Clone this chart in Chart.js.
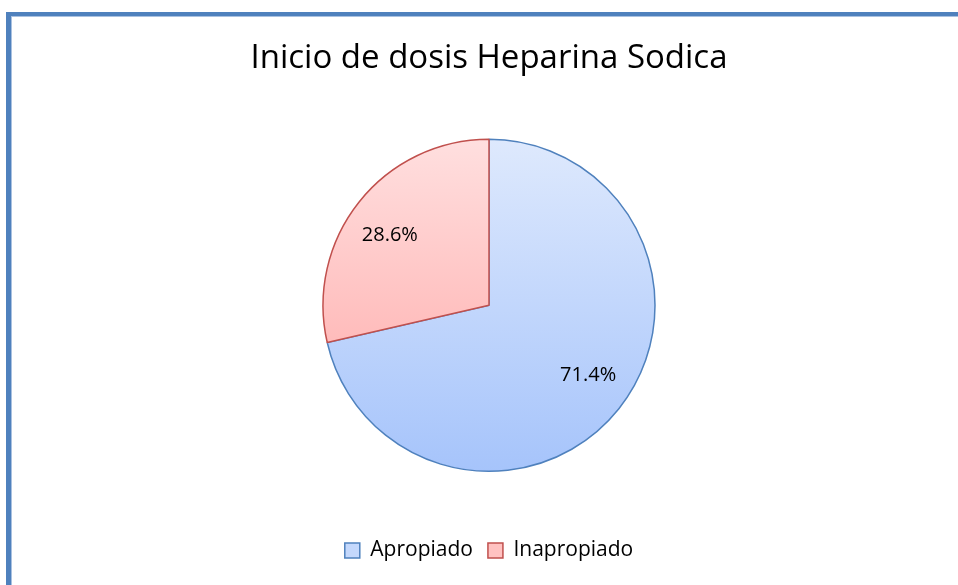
<!DOCTYPE html>
<html>
<head>
<meta charset="utf-8">
<script src="https://cdn.jsdelivr.net/npm/chart.js@4.4.0/dist/chart.umd.min.js"></script>
<style>
  html, body { margin: 0; padding: 0; background: #fff; }
  #wrap { position: relative; width: 958px; height: 585px; overflow: hidden; }
  #frame {
    position: absolute; left: 6px; top: 12px; width: 1000px; height: 700px;
    border-left: 5px solid #4F81BD; border-top: 4px solid #4F81BD;
    box-shadow: inset 1px 1px 0 #a9c1e0;
  }
  canvas { position: absolute; left: 0; top: 0; }
</style>
</head>
<body>
<div id="wrap">
  <div id="frame"></div>
  <canvas id="myChart" width="958" height="585"></canvas>
</div>
<script>
// Data
const categories = ['Apropiado', 'Inapropiado'];
const percentages = [71.4, 28.6];

// Colours
const topColors = ['#dee9fd', '#ffdfdf'];
const bottomColors = ['#a6c4fb', '#ffa5a4'];
const borderColors = ['#4F81BD', '#C0504D'];
const legendFill = ['#c4d8fc', '#ffc2c1'];

const PIE_RADIUS = 166;
const FONT = '"Open Sans"';

function gradientFor(ctx, i) {
  const area = ctx.chart.chartArea;
  if (!area) return topColors[i];
  const cy = (area.top + area.bottom) / 2;
  const g = ctx.chart.ctx.createLinearGradient(0, cy - PIE_RADIUS, 0, cy + PIE_RADIUS);
  g.addColorStop(0, topColors[i]);
  g.addColorStop(1, bottomColors[i]);
  return g;
}

// Etiquetas de porcentaje dentro del pastel
const sliceLabels = {
  id: 'sliceLabels',
  afterDatasetsDraw(chart) {
    const c = chart.ctx;
    const meta = chart.getDatasetMeta(0);
    c.save();
    c.font = '20px ' + FONT;
    c.fillStyle = '#000';
    c.textAlign = 'center';
    c.textBaseline = 'middle';
    meta.data.forEach((arc, i) => {
      const p = arc.getProps(['x', 'y', 'startAngle', 'endAngle', 'outerRadius'], true);
      const mid = (p.startAngle + p.endAngle) / 2 - 0.06;
      const d = p.outerRadius * 0.73;
      c.fillText(percentages[i].toFixed(1) + '%', p.x + Math.cos(mid) * d, p.y + Math.sin(mid) * d);
    });
    c.restore();
  }
};

const config = {
  type: 'pie',
  data: {
    labels: categories,
    datasets: [{
      data: percentages,
      backgroundColor: (ctx) => gradientFor(ctx, ctx.dataIndex),
      borderColor: borderColors,
      borderWidth: 1.5,
      radius: PIE_RADIUS
    }]
  },
  options: {
    responsive: false,
    animation: false,
    layout: { padding: { left: 20, top: 0, bottom: 14, right: 0 } },
    plugins: {
      title: {
        display: true,
        text: 'Inicio de dosis Heparina Sodica',
        color: '#000',
        font: { family: FONT, size: 33, weight: 'normal' },
        padding: { top: 39, bottom: 7 }
      },
      legend: {
        position: 'bottom',
        labels: {
          color: '#000',
          font: { family: FONT, size: 21 },
          boxWidth: 15,
          boxHeight: 15,
          padding: 15,
          generateLabels: (chart) => categories.map((name, i) => ({
            text: name,
            fillStyle: legendFill[i],
            strokeStyle: borderColors[i],
            lineWidth: 1.5,
            index: i
          }))
        }
      },
      tooltip: { enabled: false }
    }
  },
  plugins: [sliceLabels]
};

// Crear el gráfico
const myChart = new Chart(document.getElementById('myChart'), config);
</script>
</body>
</html>
